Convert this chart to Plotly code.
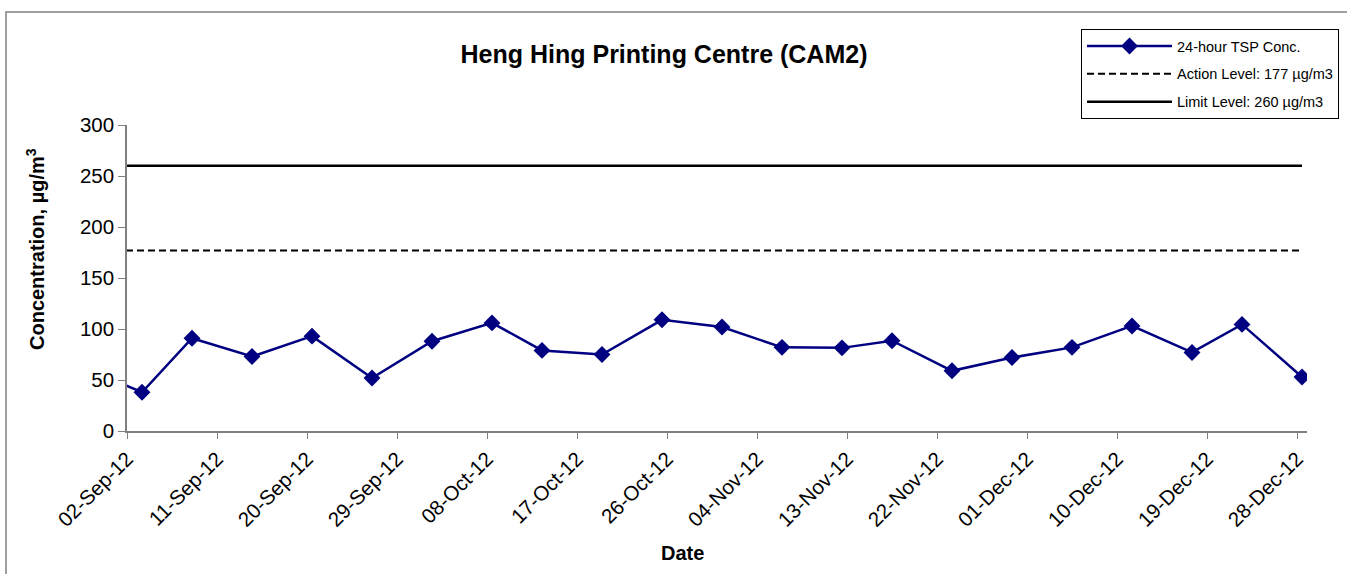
import plotly.graph_objects as go
import pandas as pd

# ---- data ----
sample_dates = ["2012-08-28", "2012-09-03", "2012-09-08", "2012-09-14", "2012-09-20",
                "2012-09-26", "2012-10-02", "2012-10-08", "2012-10-13", "2012-10-19",
                "2012-10-25", "2012-10-31", "2012-11-06", "2012-11-12", "2012-11-17",
                "2012-11-23", "2012-11-29", "2012-12-05", "2012-12-11", "2012-12-17",
                "2012-12-22", "2012-12-28"]
tsp_conc = [63, 38, 91, 73, 93, 52, 88, 106, 79, 75, 109, 102, 82, 81.5, 88.5,
            59, 72, 82, 103, 77, 104.5, 53]
action_level = 177
limit_level = 260
series_names = ["24-hour TSP Conc.", "Action Level: 177 \u00b5g/m3", "Limit Level: 260 \u00b5g/m3"]
title_text = "Heng Hing Printing Centre (CAM2)"
x_title = "Date"
y_title = "Concentration, \u00b5g/m<sup>3</sup>"

# Excel date axis: points sit in the middle of each day
x = pd.to_datetime(sample_dates) + pd.Timedelta(hours=12)

FONT = "Liberation Sans, Arial, sans-serif"

fig = go.Figure()
fig.add_trace(go.Scatter(
    x=x, y=tsp_conc, mode="lines+markers", name=series_names[0],
    line=dict(color="#000080", width=2.5),
    marker=dict(symbol="diamond", size=13, color="#000080"),
    legendgroup="a"))
fig.add_trace(go.Scatter(
    x=x, y=[action_level] * len(x), mode="lines", name=series_names[1],
    line=dict(color="black", width=2, dash="7px,4px"), legendgroup="b"))
fig.add_trace(go.Scatter(
    x=x, y=[limit_level] * len(x), mode="lines", name=series_names[2],
    line=dict(color="black", width=2.5), legendgroup="c"))

fig.update_layout(
    width=1347, height=574,
    margin=dict(l=127, r=40, t=125, b=143, autoexpand=False),
    paper_bgcolor="white", plot_bgcolor="white",
    font=dict(family=FONT, color="black"),
    title=dict(text="<b>" + title_text + "</b>", x=664 / 1347, xref="container",
               xanchor="center", y=1 - 54 / 574, yref="container", yanchor="middle",
               font=dict(size=25, family=FONT, color="black")),
    showlegend=True,
    legend=dict(x=(1081 - 127) / 1180, y=(431 - 29) / 306, xanchor="left", yanchor="top",
                bordercolor="black", borderwidth=1, bgcolor="white",
                font=dict(size=14.5, family=FONT, color="black"),
                traceorder="grouped", tracegroupgap=6, itemwidth=85),
    xaxis=dict(type="date", range=["2012-09-02", "2012-12-29"],
               tick0="2012-09-02", dtick=9 * 86400000, tickformat="%d-%b-%y",
               tickangle=-45, ticks="outside", ticklen=6, tickcolor="#808080",
               showline=True, linecolor="#808080", linewidth=1.5,
               showgrid=False, zeroline=False,
               tickfont=dict(size=20.5, family=FONT, color="black")),
    yaxis=dict(range=[0, 300], dtick=50, ticks="outside", ticklen=7, tickcolor="#808080",
               showline=True, linecolor="#808080", linewidth=1.5,
               showgrid=False, zeroline=False,
               tickfont=dict(size=20.5, family=FONT, color="black")),
    annotations=[
        dict(text="<b>" + x_title + "</b>", xref="paper", yref="paper",
             x=(682 - 127) / 1180, y=(431 - 553) / 306, xanchor="center", yanchor="middle",
             showarrow=False, font=dict(size=20, family=FONT, color="black")),
        dict(text="<b>" + y_title + "</b>", xref="paper", yref="paper",
             x=(35 - 127) / 1180, y=(431 - 249) / 306, xanchor="center", yanchor="middle",
             textangle=-90, showarrow=False, font=dict(size=20, family=FONT, color="black")),
    ],
    shapes=[dict(type="rect", xref="paper", yref="paper",
                 x0=(6 - 127) / 1180, x1=(1352 - 127) / 1180,
                 y0=(431 - 580) / 306, y1=(431 - 12) / 306,
                 line=dict(color="#808080", width=1.5), fillcolor="rgba(0,0,0,0)",
                 layer="below")],
)

fig.write_html("out.html", config={"displayModeBar": False},
               post_script="document.body.style.margin='0';document.body.style.padding='0';")
